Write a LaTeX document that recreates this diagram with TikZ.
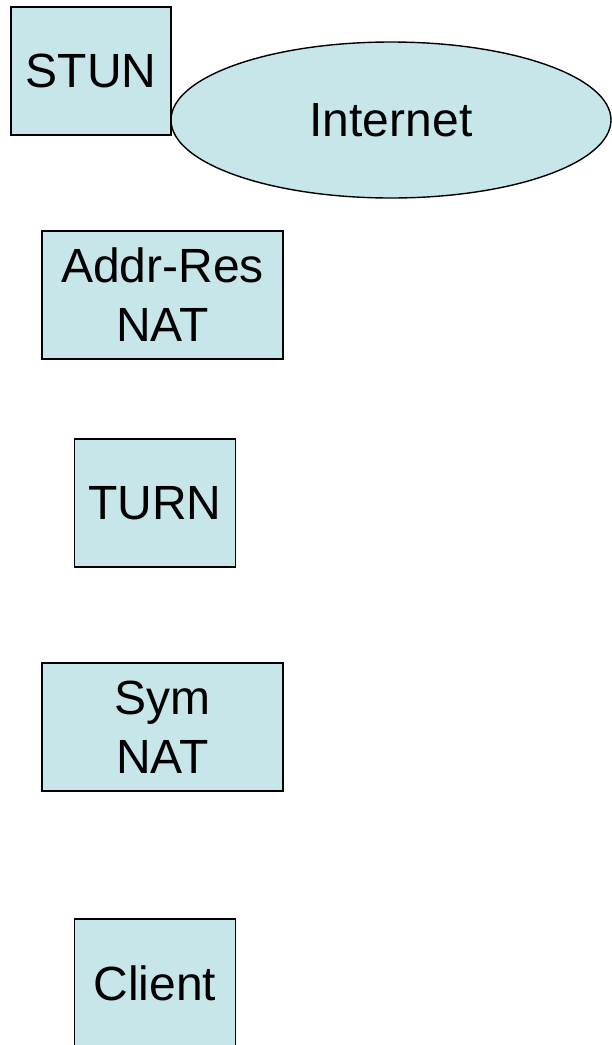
\documentclass[tikz,border=0pt]{standalone}
\usepackage{fontspec}
\setmainfont{Liberation Sans}
\usetikzlibrary{shapes.geometric}
\definecolor{boxfill}{HTML}{C7E6EA}
\tikzset{
    netbox/.style={rectangle, draw=black, fill=boxfill, line width=1.4pt, minimum height=128pt, inner sep=0pt, align=center, font=\fontsize{48}{59}\selectfont},
    smallbox/.style={netbox, minimum width=161pt},
    widebox/.style={netbox, minimum width=241pt},
    cloud/.style={ellipse, draw=black, fill=boxfill, line width=1.4pt, minimum width=440pt, minimum height=156pt, inner sep=0pt, font=\fontsize{48}{59}\selectfont},
}
\begin{document}
\begin{tikzpicture}[x=1pt, y=-1pt]
\useasboundingbox (0,0) rectangle (611,1045);

% ── Internet cloud ──
\node[cloud] (inet) at (391, 120) {Internet};

% ── Servers and NATs (top to bottom) ──
\node[smallbox, minimum width=160pt] (stun) at (91, 71) {STUN};
\node[widebox] (arnat) at (162.5, 295) {Addr-Res\\NAT};
\node[smallbox] (turn) at (155, 503) {TURN};
\node[widebox] (symnat) at (162.5, 727) {Sym\\NAT};
\node[smallbox] (client) at (155, 983) {Client};

\end{tikzpicture}
\end{document}
